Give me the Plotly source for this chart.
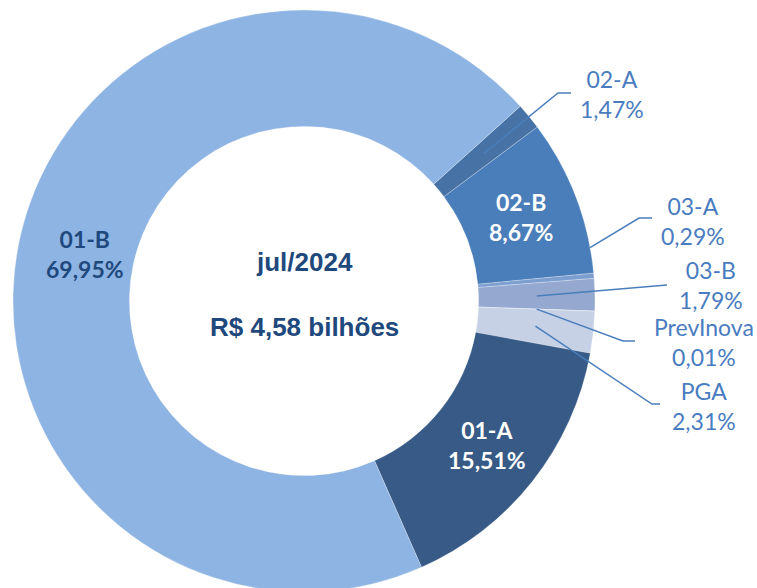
import math
import plotly.graph_objects as go

# ---- data ----
labels = ["02-A", "02-B", "03-A", "03-B", "PrevInova", "PGA", "01-A", "01-B"]
values = [1.47, 8.67, 0.29, 1.79, 0.01, 2.31, 15.51, 69.95]
colors = ["#4672A6", "#4A7EBB", "#7C9FD0", "#95A8D0", "#B4C2E0", "#C7D1E6", "#375A86", "#8EB4E3"]
inside_labels = ["02-B", "01-A", "01-B"]
center_title = "jul/2024"
center_total = "R$ 4,58 bilhões"

W, H = 757, 600  # page window is 588 tall; the ring runs past the bottom edge
ROT = 48
HOLE = 0.6
dom_x = [13 / W, 595 / W]
dom_y = [1 - 592 / H, 1 - 10 / H]

fig = go.Figure(go.Pie(
    labels=labels, values=values, sort=False, direction="clockwise",
    rotation=ROT, hole=HOLE, textinfo="none", hoverinfo="label+percent",
    marker=dict(colors=colors, line=dict(color="rgba(255,255,255,0.5)", width=0.5)),
    domain=dict(x=dom_x, y=dom_y), showlegend=False,
))

# geometry derived from the pie domain
cx = (dom_x[0] + dom_x[1]) / 2 * W
cy = (1 - (dom_y[0] + dom_y[1]) / 2) * H
R = min((dom_x[1] - dom_x[0]) * W, (dom_y[1] - dom_y[0]) * H) / 2
total = sum(values)
mids = {}
cum = 0
for lab, v in zip(labels, values):
    mids[lab] = ROT + (cum + v / 2) / total * 360
    cum += v


def pt(angle, rfrac):
    a = math.radians(angle)
    return cx + rfrac * R * math.sin(a), cy - rfrac * R * math.cos(a)


def px(x):
    return x / W


def py(y):
    return 1 - y / H


def fmt(v):
    return f"{v:.2f}".replace(".", ",")


font_lbl = "Lato, 'Open Sans', sans-serif"

# inside labels
inside_colors = {"02-B": "white", "01-A": "white", "01-B": "#1F497D"}
inside_r = {"02-B": 0.8, "01-A": 0.8, "01-B": 0.77}
for lab in inside_labels:
    v = values[labels.index(lab)]
    x, y = pt(mids[lab], inside_r[lab])
    fig.add_annotation(x=px(x), y=py(y), xref="paper", yref="paper", showarrow=False,
                       text=f"<b>{lab}</b><br><b>{fmt(v)}%</b>",
                       font=dict(family=font_lbl, size=23, color=inside_colors[lab]),
                       xanchor="center", yanchor="middle")

# outside labels with leader lines: (label, start r, angle offset, elbow, end, text center)
outside = [
    ("02-A", 0.8, 0, (558, 93), (571, 93), (612, 94)),
    ("03-A", 1.0, -5.6, (639, 218), (652, 218), (693, 221)),
    ("03-B", 0.8, 0, (667, 285), (667, 285), (711, 285)),
    ("PrevInova", 0.8, 0, (623, 341), (635, 341), (704, 342)),
    ("PGA", 0.8, 0, (652, 404), (660, 404), (704, 406)),
]
line_col = "#4A7EBB"
for lab, rf, off, elbow, end, tc in outside:
    v = values[labels.index(lab)]
    x0, y0 = pt(mids[lab] + off, rf)
    path = f"M {px(x0)},{py(y0)} L {px(elbow[0])},{py(elbow[1])} L {px(end[0])},{py(end[1])}"
    fig.add_shape(type="path", path=path, xref="paper", yref="paper",
                  line=dict(color=line_col, width=1.5))
    fig.add_annotation(x=px(tc[0]), y=py(tc[1]), xref="paper", yref="paper", showarrow=False,
                       text=f"{lab}<br>{fmt(v)}%",
                       font=dict(family=font_lbl, size=23, color="#4A7CC0"),
                       xanchor="center", yanchor="middle")

# center text
for txt, yy in [(center_title, 262), (center_total, 327)]:
    fig.add_annotation(x=px(cx), y=py(yy), xref="paper", yref="paper", showarrow=False,
                       text=f"<b>{txt}</b>",
                       font=dict(family="'Liberation Sans', Arial, sans-serif", size=26, color="#1F497D"),
                       xanchor="center", yanchor="middle")

fig.update_layout(width=W, height=H, margin=dict(l=0, r=0, t=0, b=0),
                  paper_bgcolor="white", plot_bgcolor="white")
fig.write_html("out.html", config={"displayModeBar": False},
               post_script="document.body.style.margin='0';document.body.style.overflow='hidden';")
